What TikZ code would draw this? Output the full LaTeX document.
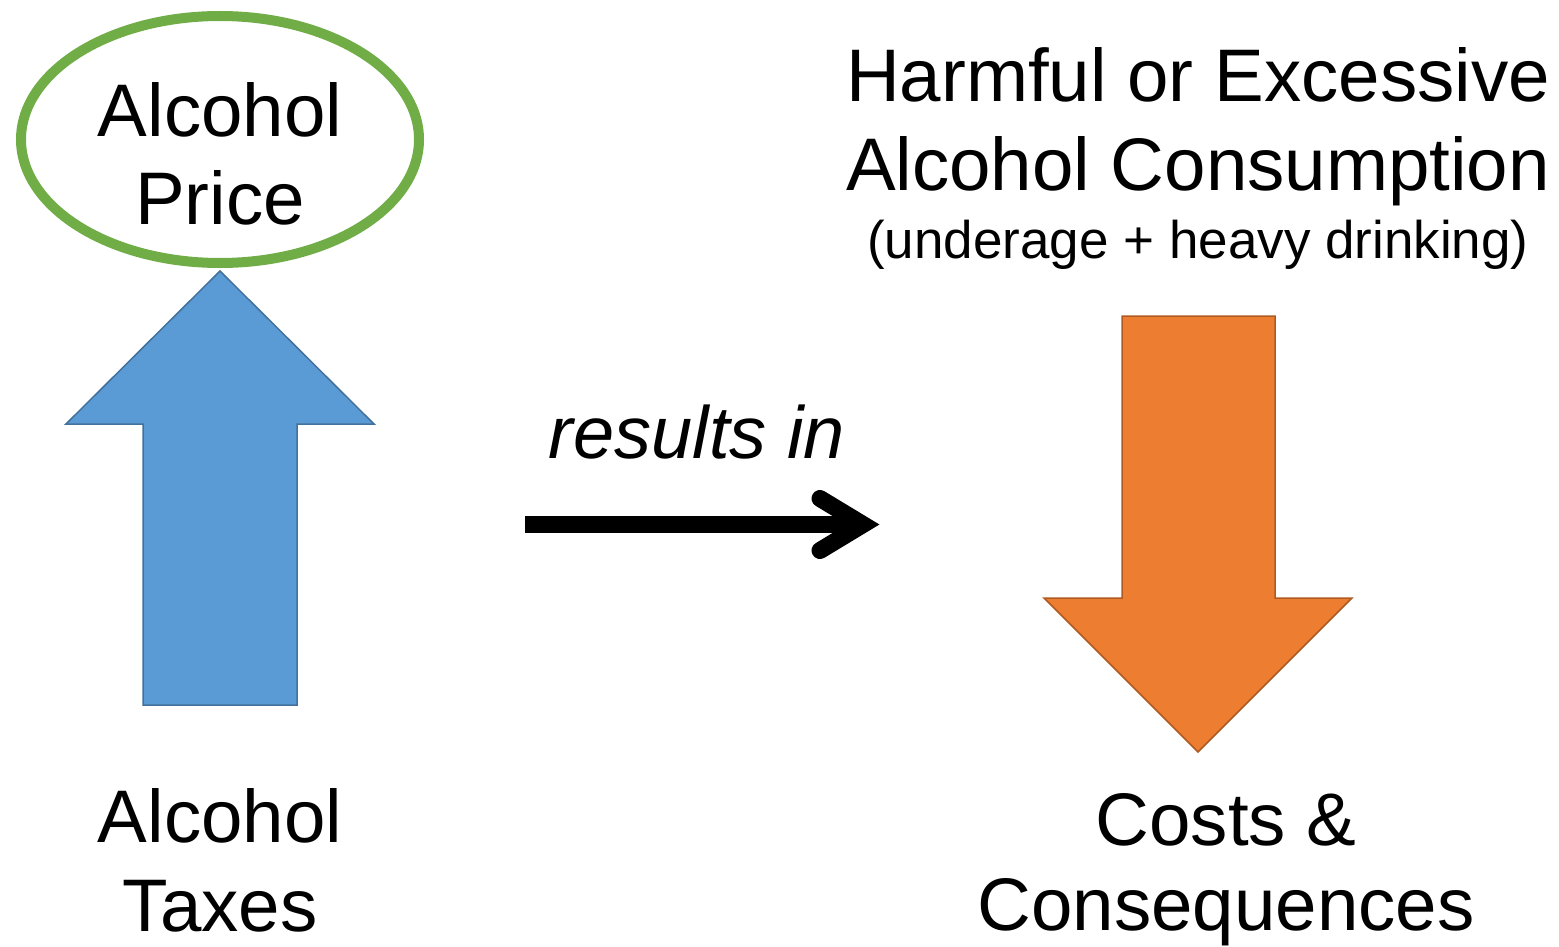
\documentclass[tikz,border=0pt]{standalone}
\usepackage{fontspec}
\setmainfont{Liberation Sans}
\usetikzlibrary{shapes.geometric,calc}

\definecolor{priceGreen}{HTML}{70AD47}
\definecolor{taxBlue}{HTML}{5B9BD5}
\definecolor{taxBlueEdge}{HTML}{41719C}
\definecolor{harmOrange}{HTML}{ED7D31}
\definecolor{harmOrangeEdge}{HTML}{AE5A21}

\tikzset{
  bigtext/.style={anchor=base, inner sep=0pt, font=\fontsize{74.5}{88}\selectfont},
  smalltext/.style={anchor=base, inner sep=0pt, font=\fontsize{53}{62}\selectfont},
  italtext/.style={anchor=base, inner sep=0pt, font=\fontsize{74}{88}\selectfont\itshape},
  blockup/.style={fill=taxBlue, draw=taxBlueEdge, line width=1.5pt, line join=miter},
  blockdown/.style={fill=harmOrange, draw=harmOrangeEdge, line width=1.5pt, line join=miter},
  ring/.style={ellipse, draw=priceGreen, line width=10pt, inner sep=0pt,
    minimum width=398pt, minimum height=247pt},
  resultline/.style={line width=17pt, line cap=butt},
  resulthead/.style={line width=17pt, line cap=round, line join=miter}
}

\begin{document}
\begin{tikzpicture}[x=1pt,y=-1pt]
  \useasboundingbox (0,0) rectangle (1559,947);

  % price ellipse and its caption
  \node[ring] (price) at (220,139.5) {};
  \node[bigtext] (priceA) at (220,137) {Alcohol};
  \node[bigtext] (priceB) at (220,224) {Price};

  % blue up arrow (taxes raise price)
  \draw[blockup] (220,271) -- (374,424) -- (297,424) -- (297,705)
    -- (143,705) -- (143,424) -- (66,424) -- cycle;

  % taxes caption
  \node[bigtext] (taxA) at (220,842) {Alcohol};
  \node[bigtext] (taxB) at (220,931) {Taxes};

  % "results in" connector
  \node[italtext] (res) at (697,458) {results in};
  \coordinate (ra) at (525,524.5);
  \coordinate (rb) at (863,524.5);
  \draw[resultline] (ra) -- (rb);
  \draw[resulthead] ($(rb)+(-43,-26)$) -- (rb) -- ($(rb)+(-43,26)$);

  % consumption heading
  \node[bigtext] (harmA) at (1198,102) {Harmful or Excessive};
  \node[bigtext] (harmB) at (1198,190) {Alcohol Consumption};
  \node[smalltext] (harmC) at (1198,258) {(underage + heavy drinking)};

  % orange down arrow
  \draw[blockdown] (1122,316) -- (1275,316) -- (1275,598) -- (1352,598)
    -- (1198,752) -- (1044,598) -- (1122,598) -- cycle;

  % costs caption
  \node[bigtext] (costA) at (1226,845) {Costs \&};
  \node[bigtext] (costB) at (1226,930) {Consequences};
\end{tikzpicture}
\end{document}
